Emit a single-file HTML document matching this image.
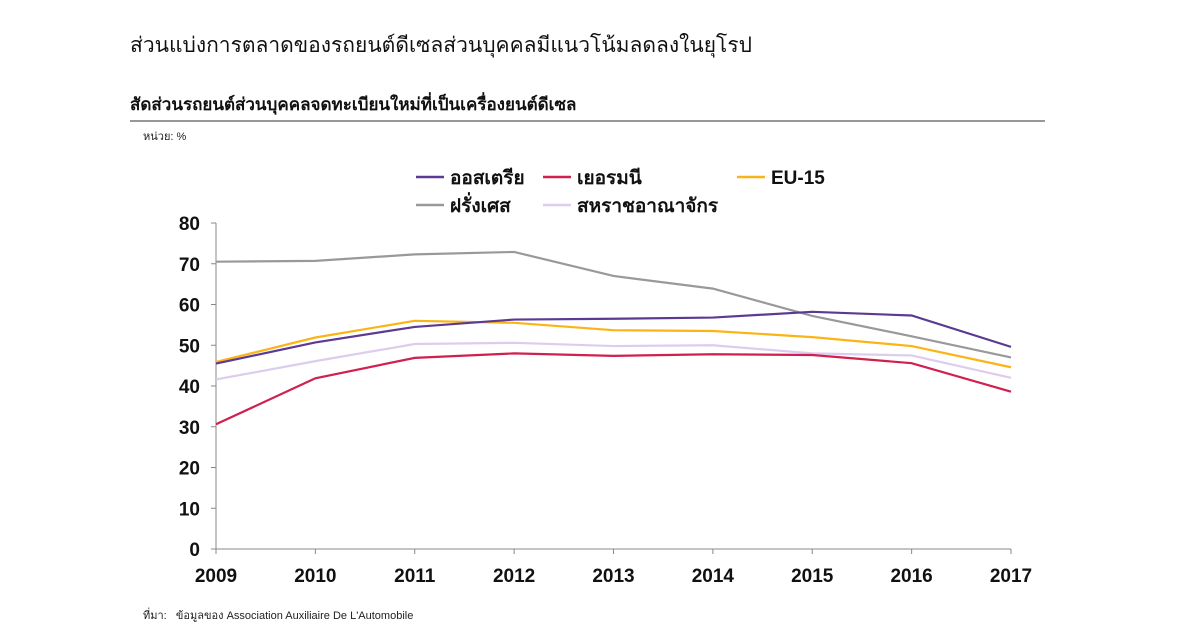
<!DOCTYPE html>
<html><head><meta charset="utf-8"><style>
body{margin:0;background:#fff;width:1200px;height:630px;overflow:hidden;font-family:"Liberation Sans",sans-serif}
</style></head><body>
<svg width="1200" height="630">
<text x="130" y="52" font-size="21" fill="#111">ส่วนแบ่งการตลาดของรถยนต์ดีเซลส่วนบุคคลมีแนวโน้มลดลงในยุโรป</text>
<text x="130" y="110" font-size="17" font-weight="bold" fill="#111">สัดส่วนรถยนต์ส่วนบุคคลจดทะเบียนใหม่ที่เป็นเครื่องยนต์ดีเซล</text>
<line x1="130" y1="121" x2="1045" y2="121" stroke="#777" stroke-width="1.5"/>
<text x="143" y="140" font-size="11" fill="#222">หน่วย: %</text>
<text x="143" y="619" font-size="11" fill="#222">ที่มา:&#160;&#160;&#160;ข้อมูลของ Association Auxiliaire De L'Automobile</text>
<g id="axes"></g><g id="lines"></g><g id="legend"></g>
</svg>
<script>
const years=[2009,2010,2011,2012,2013,2014,2015,2016,2017];
const yTicks=[0,10,20,30,40,50,60,70,80];
const austria=[45.5,50.7,54.5,56.3,56.5,56.8,58.2,57.3,49.6];
const germany=[30.6,41.9,46.9,48.0,47.4,47.8,47.6,45.6,38.6];
const eu15=[45.9,51.9,56.0,55.5,53.7,53.5,52.0,49.8,44.6];
const france=[70.5,70.7,72.3,72.9,67.0,63.9,57.2,52.2,47.0];
const uk=[41.6,46.1,50.3,50.6,49.8,50.0,48.0,47.5,42.0];
const NS="http://www.w3.org/2000/svg";
const x0=216,x1=1011,y0=549,y1=223;
const xs=i=>x0+(x1-x0)*i/(years.length-1);
const ys=v=>y0-(y0-y1)*v/80;
function mk(t,a,p){const e=document.createElementNS(NS,t);for(const k in a)e.setAttribute(k,a[k]);p.appendChild(e);return e;}
const ax=document.getElementById('axes');
let e=mk('line',{x1:x0,y1:y1,x2:x0,y2:y0,stroke:'#888','stroke-width':1},ax);


e=mk('line',{x1:x0,y1:y0,x2:x1,y2:y0,stroke:'#888','stroke-width':1},ax);


yTicks.forEach(v=>{
 mk('line',{x1:x0-5,y1:ys(v),x2:x0,y2:ys(v),stroke:'#888'},ax);
 const t=mk('text',{x:x0-16,y:ys(v)+7,'text-anchor':'end','font-size':19,'font-weight':'bold',fill:'#111'},ax);
 t.textContent=v;
 
 
});
years.forEach((y,i)=>{
 mk('line',{x1:xs(i),y1:y0,x2:xs(i),y2:y0+5,stroke:'#888'},ax);
 const t=mk('text',{x:xs(i),y:y0+33,'text-anchor':'middle','font-size':19,'font-weight':'bold',fill:'#111'},ax);
 t.textContent=y;
 
 
});
const series=[
 ['ฝรั่งเศส',france,'#999999','line-france'],
 ['สหราชอาณาจักร',uk,'#dccdef','line-uk'],
 ['เยอรมนี',germany,'#d0204f','line-germany'],
 ['EU-15',eu15,'#fbb415','line-eu15'],
 ['ออสเตรีย',austria,'#5b3a94','line-austria']];
const lg=document.getElementById('lines');
series.forEach(s=>{
 const p=mk('polyline',{points:s[1].map((v,i)=>xs(i)+','+ys(v)).join(' '),fill:'none',stroke:s[2],'stroke-width':2.2},lg);
 
 
});
const leg=document.getElementById('legend');
const legItems=[['ออสเตรีย','#5b3a94',416,177],['เยอรมนี','#d0204f',543,177],['EU-15','#fbb415',737,177],['ฝรั่งเศส','#999999',416,205],['สหราชอาณาจักร','#dccdef',543,205]];
legItems.forEach(l=>{
 mk('line',{x1:l[2],y1:l[3],x2:l[2]+28,y2:l[3],stroke:l[1],'stroke-width':2.5},leg);
 const t=mk('text',{x:l[2]+34,y:l[3]+7,'font-size':19,'font-weight':'bold',fill:'#111'},leg);
 t.textContent=l[0];
 
 
});
</script>
</body></html>
